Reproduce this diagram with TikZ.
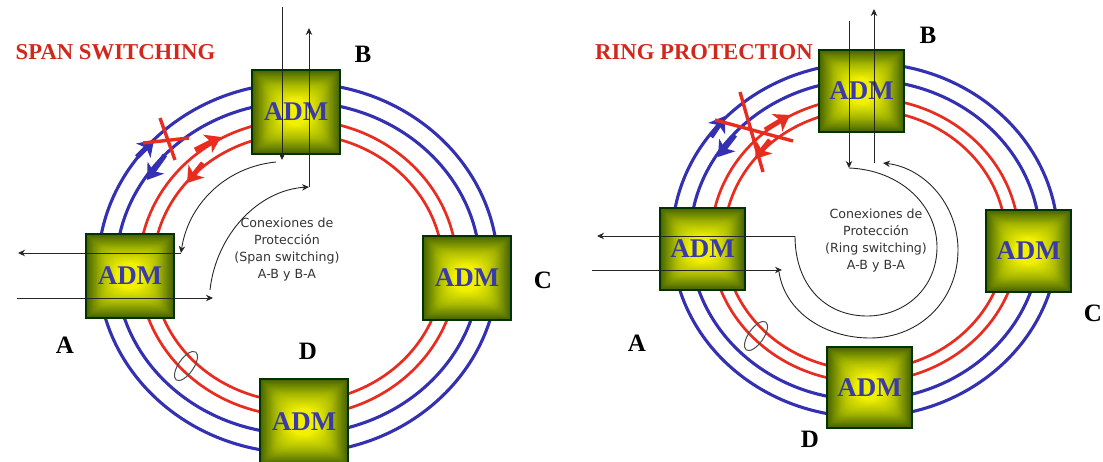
\documentclass[tikz,border=0pt]{standalone}
\usepackage{fontspec}
\setmainfont{Liberation Serif}
\newfontfamily\lblsans{DejaVu Sans}
\usetikzlibrary{arrows.meta,calc,shapes.geometric}
\definecolor{ringblue}{RGB}{52,48,178}
\definecolor{ringred}{RGB}{232,44,32}
\definecolor{admtext}{RGB}{58,58,170}
\definecolor{admedge}{RGB}{70,100,0}
\definecolor{admmid}{RGB}{165,182,0}
\definecolor{admcore}{RGB}{240,240,0}
\tikzset{
  bluering/.style={draw=ringblue,line width=3.1pt},
  redring/.style={draw=ringred,line width=2.7pt},
  admbox/.style 2 args={draw=black!80!green,line width=1.1pt,minimum width=#1,minimum height=#2,inner sep=0pt,
     text=admtext,font=\fontsize{27}{27}\selectfont\bfseries,
     path picture={
       \foreach \i in {0,...,40}{
         \pgfmathsetmacro{\f}{\i/40}
         \pgfmathsetmacro{\mixa}{min(100,\f*250)}
         \pgfmathsetmacro{\mixb}{max(0,(\f-0.4)*250)}
         \pgfmathsetmacro{\mixb}{min(100,\mixb)}
         \colorlet{admnow}{admcore!\mixb!admmid}
         \ifdim\f pt<0.4pt \colorlet{admnow}{admmid!\mixa!admedge}\fi
         \pgfmathsetmacro{\s}{1-\f*0.85}
         \pgfmathsetmacro{\r}{\f*18}
         \fill[admnow,rounded corners=\r pt] ($(path picture bounding box.center)+({-\s*#1/2},{-\s*#2/2})$) rectangle ($(path picture bounding box.center)+({\s*#1/2},{\s*#2/2})$);
       }
     }},
  wire/.style={draw=black!85,line width=0.9pt},
  wirearrow/.style={wire,-{Stealth[length=7pt,width=6.5pt]}},
  fatblue/.style={draw=ringblue,line width=5pt,-{Stealth[length=15pt,width=20pt,inset=4pt]}},
  fatred/.style={draw=ringred,line width=5pt,-{Stealth[length=15pt,width=20pt,inset=4pt]}},
  crossline/.style={draw=ringred,line width=3.4pt},
  titletext/.style={text=ringred!90!black,font=\fontsize{22.7}{23}\selectfont\bfseries,inner sep=0pt},
  letter/.style={text=black,font=\fontsize{25}{25}\selectfont\bfseries,inner sep=0pt},
  note/.style={align=center,font=\lblsans\fontsize{12.6}{17}\selectfont,text=black!80,inner sep=0pt},
  bundle/.style={draw=black!70,line width=1pt,ellipse,minimum width=34pt,minimum height=15pt,inner sep=0pt,rotate=55}
}
\begin{document}
\begin{tikzpicture}[x=1pt,y=-1pt]
\useasboundingbox (0,0) rectangle (1103,461);
% ---------- left: span switching
\coordinate (lc) at (298,268);
\draw[bluering] (lc) ellipse [x radius=200,y radius=185];
\draw[bluering] (lc) ellipse [x radius=182,y radius=166];
\draw[redring] (lc) ellipse [x radius=159,y radius=148];
\draw[redring] (lc) ellipse [x radius=145,y radius=134];
\node[bundle] (lbundle) at (186,366) {};
\node[admbox={88pt}{84pt}] (lB) at (296,112) {ADM};
\node[admbox={88pt}{84pt}] (lA) at (130,276) {ADM};
\node[admbox={88pt}{84pt}] (lC) at (467,278) {ADM};
\node[admbox={88pt}{86pt}] (lD) at (304,422) {ADM};
\node[titletext] (ltitle) at (115.5,52) {SPAN SWITCHING};
\node[letter] (lBl) at (363,54) {B};
\node[letter] (lAl) at (65,345) {A};
\node[letter] (lCl) at (543,280) {C};
\node[letter] (lDl) at (308,351) {D};
\node[note] (lnote) at (287,249.5) {Conexiones de\\Protección\\(Span switching)\\A-B y B-A};
\coordinate (lb1) at (282,7); \coordinate (lb2) at (282,160);
\coordinate (lb3) at (309,187); \coordinate (lb4) at (309,28);
\coordinate (la1) at (181,253); \coordinate (la2) at (18,253);
\coordinate (la3) at (17,298); \coordinate (la4) at (213,298);
\coordinate (lc1) at (276,162); \coordinate (lc2) at (210,290);
\draw[wirearrow] (lb1) -- (lb2);
\draw[wirearrow] (lb3) -- (lb4);
\draw[wirearrow] (la1) -- (la2);
\draw[wirearrow] (la3) -- (la4);
\draw[wirearrow] (lc1) .. controls (225,167) and (188,205) .. (la1);
\draw[wirearrow] (lc2) .. controls (216,235) and (258,190) .. (lb3);
\coordinate (lf1a) at (137,157); \coordinate (lf1b) at (154,140);
\coordinate (lf2a) at (165,155); \coordinate (lf2b) at (147,180);
\coordinate (lf3a) at (195,150); \coordinate (lf3b) at (221,137);
\coordinate (lf4a) at (203,163); \coordinate (lf4b) at (187,183);
\draw[fatblue] (lf1a) -- (lf1b);
\draw[fatblue] (lf2a) -- (lf2b);
\draw[fatred] (lf3a) -- (lf3b);
\draw[fatred] (lf4a) -- (lf4b);
\coordinate (lx1) at (143,143); \coordinate (lx2) at (189,138);
\coordinate (lx3) at (160,118); \coordinate (lx4) at (175,160);
\draw[crossline] (lx1) -- (lx2);
\draw[crossline] (lx3) -- (lx4);
% ---------- right: ring protection
\coordinate (rc) at (865,240);
\draw[bluering] (rc) ellipse [x radius=193,y radius=177];
\draw[bluering] (rc) ellipse [x radius=175,y radius=160];
\draw[redring] (rc) ellipse [x radius=154,y radius=142];
\draw[redring] (rc) ellipse [x radius=141,y radius=130];
\node[bundle] (rbundle) at (756,336) {};
\node[admbox={85pt}{82pt}] (rB) at (861.5,91) {ADM};
\node[admbox={85pt}{82pt}] (rA) at (702.5,249) {ADM};
\node[admbox={85pt}{82pt}] (rC) at (1028.5,251) {ADM};
\node[admbox={85pt}{81pt}] (rD) at (869.5,387.5) {ADM};
\node[titletext] (rtitle) at (704,52) {RING PROTECTION};
\node[letter] (rBl) at (928,35) {B};
\node[letter] (rAl) at (637,343) {A};
\node[letter] (rCl) at (1093,313) {C};
\node[letter] (rDl) at (810,439) {D};
\node[note] (rnote) at (876,240.5) {Conexiones de\\Protección\\(Ring switching)\\A-B y B-A};
\coordinate (rb1) at (849,21); \coordinate (rb2) at (849,168);
\coordinate (rb3) at (874,163); \coordinate (rb4) at (874,9);
\coordinate (ra1) at (795,236); \coordinate (ra2) at (597,236);
\coordinate (ra3) at (592,270); \coordinate (ra4) at (782,270);
\coordinate (rc1) at (779,272); \coordinate (rc2) at (883,163);
\draw[wirearrow] (rb1) -- (rb2);
\draw[wirearrow] (rb3) -- (rb4);
\draw[wirearrow] (ra1) -- (ra2);
\draw[wirearrow] (ra3) -- (ra4);
\draw[wire] (rb2) .. controls (900,170) and (937,205) .. (937,247)
  .. controls (937,288) and (905,316) .. (867,316)
  .. controls (825,316) and (795,285) .. (ra1);
\draw[wirearrow] (rc1) .. controls (785,312) and (825,338) .. (870,338)
  .. controls (920,338) and (958,300) .. (958,250)
  .. controls (958,205) and (925,168) .. (rc2);
\coordinate (rf1a) at (711,137); \coordinate (rf1b) at (725,116);
\coordinate (rf2a) at (735,135); \coordinate (rf2b) at (718,157);
\coordinate (rf3a) at (765,130); \coordinate (rf3b) at (790,115);
\coordinate (rf4a) at (770,140); \coordinate (rf4b) at (755,159);
\draw[fatblue] (rf1a) -- (rf1b);
\draw[fatblue] (rf2a) -- (rf2b);
\draw[fatred] (rf3a) -- (rf3b);
\draw[fatred] (rf4a) -- (rf4b);
\coordinate (rx1) at (715,120); \coordinate (rx2) at (793,141);
\coordinate (rx3) at (740,92); \coordinate (rx4) at (763,172);
\draw[crossline] (rx1) -- (rx2);
\draw[crossline] (rx3) -- (rx4);
\end{tikzpicture}
\end{document}
